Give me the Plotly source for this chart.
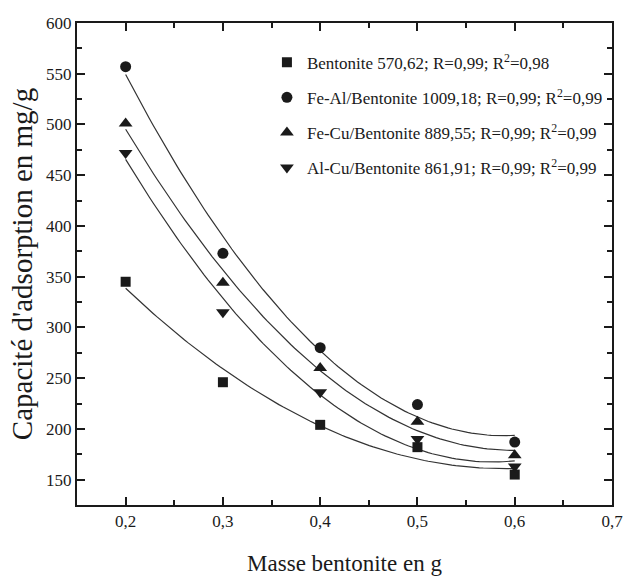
import numpy as np
import plotly.graph_objects as go

masse = [0.2, 0.3, 0.4, 0.5, 0.6]

bentonite = [345, 246, 204, 182, 155]
fe_al = [557, 373, 280, 224, 187]
fe_cu = [501, 344, 260, 207, 174]
al_cu = [472, 315, 236, 190, 163]

names = [
    "Bentonite 570,62; R=0,99; R<sup>2</sup>=0,98",
    "Fe-Al/Bentonite 1009,18; R=0,99; R<sup>2</sup>=0,99",
    "Fe-Cu/Bentonite 889,55; R=0,99; R<sup>2</sup>=0,99",
    "Al-Cu/Bentonite 861,91; R=0,99; R<sup>2</sup>=0,99",
]
series = [bentonite, fe_al, fe_cu, al_cu]
symbols = ["square", "circle", "triangle-up", "triangle-down"]
sizes = [10, 11, 12, 12]

fig = go.Figure()
xf = np.linspace(min(masse), max(masse), 100)
for i, (nm, ys, sym, sz) in enumerate(zip(names, series, symbols, sizes)):
    coef = np.polyfit(masse, ys, 2)
    fig.add_trace(go.Scatter(x=xf, y=np.polyval(coef, xf), mode="lines",
                             line=dict(color="#333333", width=1.2),
                             showlegend=False, hoverinfo="skip"))
for i, (nm, ys, sym, sz) in enumerate(zip(names, series, symbols, sizes)):
    fig.add_trace(go.Scatter(x=masse, y=ys, mode="markers", name=nm,
                             legendgroup=str(i),
                             marker=dict(symbol=sym, size=sz, color="#1a1a1a",
                                         line=dict(width=0))))

font = "Liberation Serif, Times New Roman, DejaVu Serif, serif"
axis_common = dict(
    showline=True, linecolor="#1a1a1a", linewidth=2, mirror="ticks",
    ticks="inside", ticklen=8, tickwidth=1.5, tickcolor="#1a1a1a",
    showgrid=False, zeroline=False, automargin=False,
    tickfont=dict(family=font, size=17, color="#1a1a1a"),
)
fig.update_layout(
    width=626, height=587,
    margin=dict(l=77, r=14, t=23, b=82),
    paper_bgcolor="white", plot_bgcolor="white",
    separators=", ",
    font=dict(family=font, color="#1a1a1a"),
    xaxis=dict(range=[0.15, 0.7], tick0=0, dtick=0.1, tickformat=".1f",
               minor=dict(dtick=0.05, tick0=0, ticks="inside", ticklen=5,
                          tickwidth=1.5, tickcolor="#1a1a1a"),
               title=dict(text="Masse bentonite en g",
                          font=dict(family=font, size=23), standoff=24),
               **axis_common),
    yaxis=dict(range=[125, 600], tick0=0, dtick=50,
               minor=dict(dtick=25, tick0=0, ticks="inside", ticklen=5,
                          tickwidth=1.5, tickcolor="#1a1a1a"),
               title=dict(text="Capacité d'adsorption en mg/g",
                          font=dict(family=font, size=29), standoff=5),
               **axis_common),
    legend=dict(x=0.355, y=0.955, xanchor="left", yanchor="top",
                bgcolor="rgba(0,0,0,0)", tracegroupgap=10,
                font=dict(family=font, size=17, color="#1a1a1a")),
)
fig.write_html(
    "out.html",
    config={"displayModeBar": False},
    post_script="document.body.style.margin='0';document.body.style.overflow='hidden';",
)
